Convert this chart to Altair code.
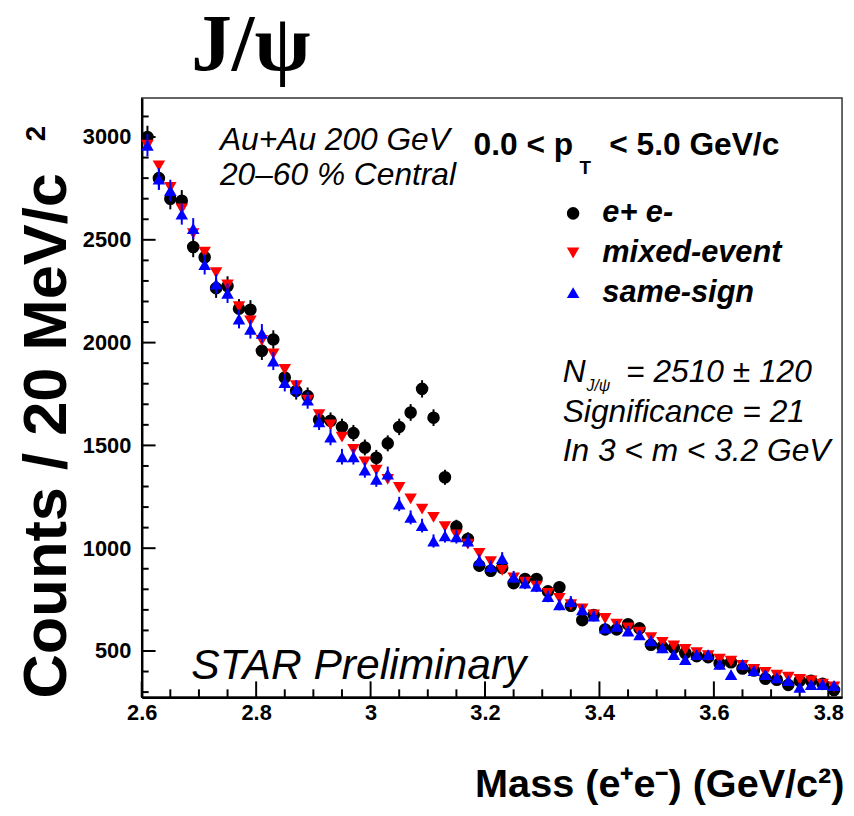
import altair as alt
import pandas as pd
import numpy as np

# ---------------- data ----------------
mass = [2.61, 2.63, 2.65, 2.67, 2.69, 2.71, 2.73, 2.75, 2.77, 2.79,
        2.81, 2.83, 2.85, 2.87, 2.89, 2.91, 2.93, 2.95, 2.97, 2.99,
        3.01, 3.03, 3.05, 3.07, 3.09, 3.11, 3.13, 3.15, 3.17, 3.19,
        3.21, 3.23, 3.25, 3.27, 3.29, 3.31, 3.33, 3.35, 3.37, 3.39,
        3.41, 3.43, 3.45, 3.47, 3.49, 3.51, 3.53, 3.55, 3.57, 3.59,
        3.61, 3.63, 3.65, 3.67, 3.69, 3.71, 3.73, 3.75, 3.77, 3.79, 3.81]

ee = [3000, 2800, 2700, 2690, 2465, 2415, 2265, 2275, 2165, 2160,
      1960, 2015, 1830, 1765, 1740, 1625, 1620, 1590, 1560, 1490,
      1440, 1510, 1590, 1660, 1775, 1635, 1345, 1105, 1045, 915,
      890, 905, 830, 850, 850, 790, 810, 720, 650, 675,
      605, 605, 630, 610, 530, 520, 515, 490, 475, 470,
      440, 445, 415, 405, 365, 360, 335, 355, 355, 340, 310]

mixed = [2960, 2860, 2755, 2650, 2530, 2440, 2340, 2280, 2175, 2105,
         2010, 1945, 1870, 1790, 1720, 1650, 1600, 1540, 1480, 1420,
         1380, 1335, 1295, 1240, 1190, 1150, 1105, 1065, 1020, 975,
         935, 892, 855, 835, 815, 780, 756, 725, 705, 675,
         658, 630, 612, 592, 565, 542, 525, 507, 492, 477,
         460, 450, 430, 410, 396, 382, 372, 362, 354, 338, 325]

same = [2960, 2795, 2740, 2625, 2555, 2380, 2285, 2240, 2115, 2065,
        2045, 1910, 1805, 1775, 1720, 1615, 1540, 1445, 1445, 1380,
        1335, 1360, 1215, 1150, 1110, 1035, 1060, 1055, 1035, 940,
        910, 950, 860, 830, 815, 765, 725, 740, 700, 670,
        612, 620, 597, 578, 550, 515, 482, 458, 482, 482,
        435, 385, 435, 405, 385, 370, 356, 323, 337, 337, 332]

series_names = ["e+ e-", "mixed-event", "same-sign"]
series_colors = ["#000000", "#ff0000", "#0000ff"]
series_shapes = ["circle", "triangle-down", "triangle-up"]

x_major = [2.6, 2.8, 3.0, 3.2, 3.4, 3.6, 3.8]
x_minor = [2.65, 2.7, 2.75, 2.85, 2.9, 2.95, 3.05, 3.1, 3.15, 3.25, 3.3, 3.35,
           3.45, 3.5, 3.55, 3.65, 3.7, 3.75]
y_major = [500, 1000, 1500, 2000, 2500, 3000]
y_minor = [300, 400, 600, 700, 800, 900, 1100, 1200, 1300, 1400, 1600, 1700,
           1800, 1900, 2100, 2200, 2300, 2400, 2600, 2700, 2800, 2900, 3100]

# ---------------- table ----------------
frames = []
for name, vals in zip(series_names, [ee, mixed, same]):
    d = pd.DataFrame({"mass": mass, "count": vals})
    d["series"] = name
    err = np.sqrt(d["count"])
    d["lo"] = d["count"] - err
    d["hi"] = d["count"] + err
    frames.append(d)
df = pd.concat(frames, ignore_index=True)

W, H = 707, 605
FONT = "Liberation Sans"

x_axis = alt.Axis(values=x_major, format="~g", ticks=False, tickSize=0, grid=False,
                  domain=True, domainColor="black", domainWidth=2.5,
                  labelFont=FONT, labelFontSize=22, labelFontWeight="bold",
                  labelColor="black", labelPadding=5, labelFlush=False,
                  title="Mass (e\u207ae\u207b) (GeV/c\u00b2)", titleFont=FONT,
                  titleFontSize=40, titleFontWeight="bold", titleColor="black",
                  titleAlign="right", titleBaseline="alphabetic",
                  titleX=W + 2, titleY=100)
y_axis = alt.Axis(values=y_major, format="d", ticks=False, tickSize=0, grid=False,
                  domain=True, domainColor="black", domainWidth=2.5,
                  labelFont=FONT, labelFontSize=22, labelFontWeight="bold",
                  labelColor="black", labelPadding=11, title=None)

x_scale = alt.Scale(domain=[2.6, 3.824], nice=False, zero=False)
y_scale = alt.Scale(domain=[275, 3190], nice=False, zero=False)


def X(field="mass"):
    return alt.X(f"{field}:Q", scale=x_scale, axis=x_axis)


def Y(field="count"):
    return alt.Y(f"{field}:Q", scale=y_scale, axis=y_axis)


legend = alt.Legend(orient="none", legendX=420, legendY=101, title=None,
                    labelFont=FONT, labelFontSize=31, labelFontWeight="bold",
                    labelFontStyle="italic", labelColor="black", labelLimit=400,
                    symbolSize=160, symbolStrokeWidth=0, rowPadding=8,
                    labelOffset=14, padding=0)
color_enc = alt.Color("series:N", scale=alt.Scale(domain=series_names, range=series_colors),
                      legend=legend)
shape_enc = alt.Shape("series:N", scale=alt.Scale(domain=series_names, range=series_shapes),
                      legend=legend)

base = alt.Chart(df)


def errbars(name, color):
    return base.transform_filter(alt.datum.series == name).mark_rule(
        strokeWidth=2, color=color).encode(x=X(), y=Y("lo"), y2="hi:Q")


def points(name):
    return base.transform_filter(alt.datum.series == name).mark_point(
        filled=True, opacity=1, size=160).encode(x=X(), y=Y(), color=color_enc, shape=shape_enc)


# inward tick marks (ROOT style)
def yticks(vals, length):
    return alt.Chart(pd.DataFrame({"count": vals})).mark_rule(
        color="black", strokeWidth=2).encode(y=Y(), x=alt.value(0), x2=alt.value(length))


def xticks(vals, length):
    return alt.Chart(pd.DataFrame({"mass": vals})).mark_rule(
        color="black", strokeWidth=2).encode(x=X(), y=alt.value(H), y2=alt.value(H - length))


def label(text, x, y, size, weight="normal", style="normal", font=FONT, angle=0, align="left"):
    return alt.Chart(pd.DataFrame({"t": [text]})).mark_text(
        align=align, baseline="alphabetic", fontSize=size, font=font,
        fontWeight=weight, fontStyle=style, angle=angle, color="black").encode(
        text="t:N", x=alt.value(x), y=alt.value(y))


layers = [
    yticks(y_major, 14), yticks(y_minor, 7),
    xticks(x_major, 16), xticks(x_minor, 8),
    errbars("e+ e-", "#000000"), points("e+ e-"),
    points("mixed-event"),
    errbars("same-sign", "#0000ff"), points("same-sign"),
    label("J/\u03c8", 50, -28, 82, weight="bold", font="Liberation Serif"),
    label("Au+Au 200 GeV", 79, 53, 32, style="italic"),
    label("20\u201360 % Central", 79, 88, 32, style="italic"),
    label("0.0 < p", 335, 58, 32, weight="bold"),
    label("T", 442, 77, 19, weight="bold"),
    label("< 5.0 GeV/c", 472, 58, 32, weight="bold"),
    label("N", 425, 287, 32, style="italic"),
    label("J/\u03c8", 449, 296, 16, style="italic"),
    label("= 2510 \u00b1 120", 489, 287, 32, style="italic"),
    label("Significance = 21", 425, 327, 32, style="italic"),
    label("In 3 < m < 3.2 GeV", 425, 367, 32, style="italic"),
    label("STAR Preliminary", 50, 587, 43, style="italic"),
    label("Counts / 20 MeV/c", -76, 341, 62, weight="bold", angle=270, align="center"),
    label("2", -98, 36, 28, weight="bold", angle=270, align="center"),
]

chart = alt.layer(*layers).properties(
    width=W, height=H,
    padding={"left": 135, "top": 87, "right": 4, "bottom": 108},
    autosize=alt.AutoSizeParams(type="none"),
    background="white",
).configure_view(stroke="#333333", strokeWidth=1.5)

chart.save("out.html", embed_options={"renderer": "svg", "actions": False})
